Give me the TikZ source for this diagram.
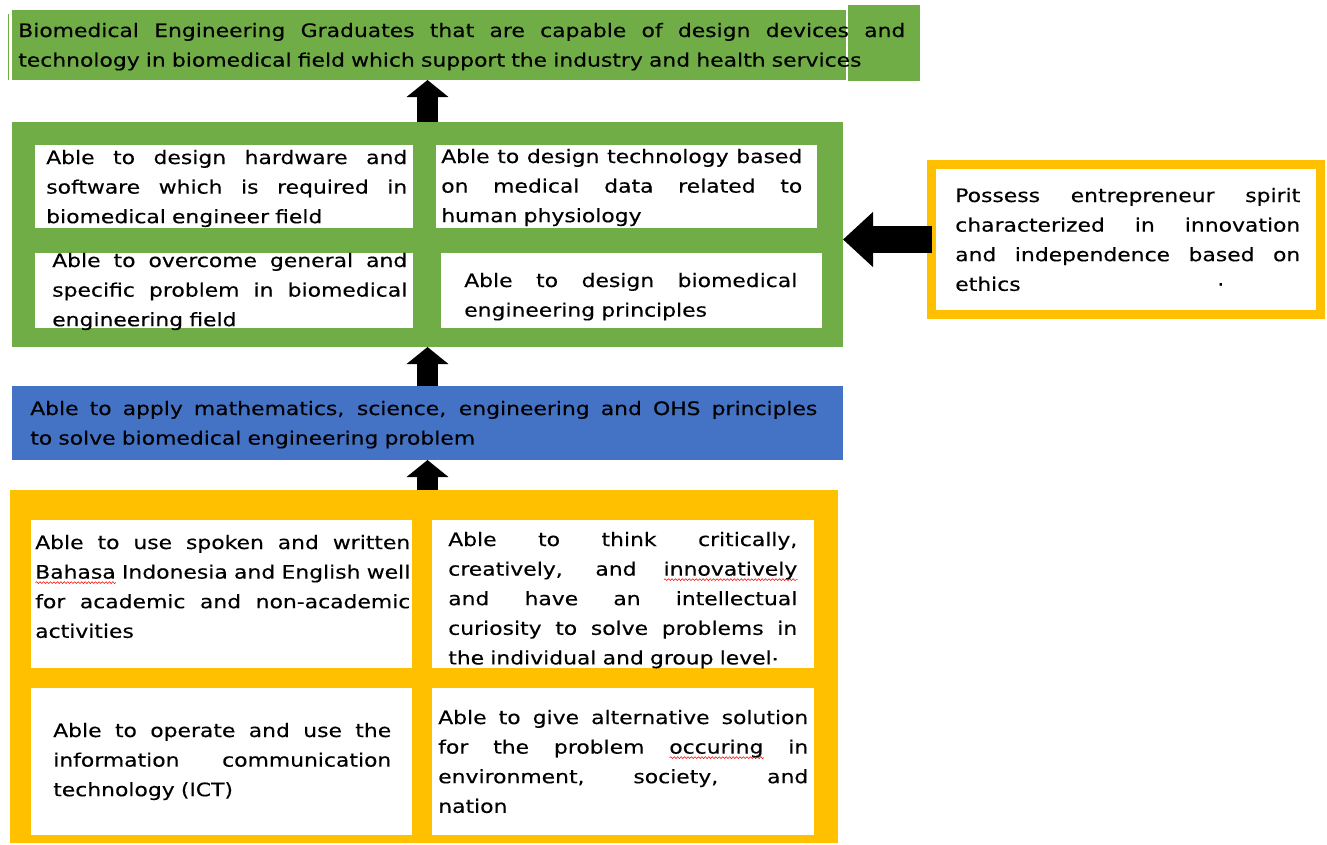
\documentclass[tikz,border=0pt]{standalone}
\usepackage{fontspec}
\setmainfont[FakeStretch=1.18,FakeBold=0.3]{DejaVu Sans}
\usetikzlibrary{arrows.meta,fit,decorations.pathmorphing}
\definecolor{cgreen}{HTML}{70AD47}
\definecolor{cblue}{HTML}{4472C4}
\definecolor{cyellow}{HTML}{FFC000}
\newsavebox\wavebox
\newcommand\redwave[1]{\sbox\wavebox{#1}\rlap{\tikz[x=1pt,y=1pt,baseline=0pt]
  \draw[red, line width=0.4pt, decorate, decoration={snake,amplitude=0.7pt,segment length=2.6pt}]
  (0,-3) -- (\the\wd\wavebox,-3);}\usebox\wavebox}
\newlength\tw
\newcommand\jl[1]{\leavevmode\hbox to \tw{\spaceskip=0.25em plus 1fil minus 0.12em\relax #1}\\}
\newcommand\lastl[1]{\leavevmode\hbox to \tw{#1}}
\tikzset{
  panel/.style={inner sep=0pt, outer sep=0pt},
  whitebox/.style={fill=white, inner sep=0pt, outer sep=0pt},
  txt/.style={inner sep=0pt, anchor=base west, align=left, text width=#1,
    execute at begin node={\setlength{\tw}{#1}},
    font=\fontsize{13.9}{22.2}\selectfont},
  uparrow/.style={line width=15.75pt, -{Triangle[width=30.75pt,length=12.75pt]}},
  leftarrow/.style={line width=20.25pt, -{Triangle[width=40pt,length=22.5pt]}},
}
\begin{document}
\begin{tikzpicture}[x=0.75pt,y=-0.75pt]
\useasboundingbox (0,0) rectangle (1327,844);
% ---- top goal box
\node[panel, fill=cgreen, fit={(12,10) (846,80)}] (top) {};
\node[panel, fill=cgreen, fit={(848,5) (920,81)}] (topx) {};
\fill[cgreen] (7.5,14) rectangle (9,80);
\node[txt=665.25pt] (ttop) at (18,37)
 {\jl{Biomedical Engineering Graduates that are capable of design devices and}technology in biomedical field which support the industry and health services};
% ---- green competence box
\node[panel, fill=cgreen, fit={(12,122) (843,347)}] (box2) {};
\node[whitebox, fit={(35,145) (413,228)}] (wa) {};
\node[whitebox, fit={(436,145) (817,228)}] (wb) {};
\node[whitebox, fit={(35,253) (413,328)}] (wc) {};
\node[whitebox, fit={(441,253) (822,328)}] (wd) {};
\node[txt=270.75pt] (ta) at (46,164)
 {\jl{Able to design hardware and}\jl{software which is required in}biomedical engineer field};
\node[txt=270.75pt] (tb) at (441,163)
 {\jl{Able to design technology based}\jl{on medical data related to}human physiology};
\node[txt=266.25pt] (tc) at (52,267)
 {\jl{Able to overcome general and}\jl{specific problem in biomedical}engineering field};
\node[txt=249.75pt] (td) at (464,287)
 {\jl{Able to design biomedical}engineering principles};
% ---- blue box
\node[panel, fill=cblue, fit={(12,386) (843,460)}] (blue) {};
\node[txt=590.25pt] (tblue) at (30,415)
 {\jl{Able to apply mathematics, science, engineering and OHS principles}to solve biomedical engineering problem};
% ---- yellow box
\node[panel, fill=cyellow, fit={(10,490) (838,843)}] (ybox) {};
\node[whitebox, fit={(31,520) (412,668)}] (ya) {};
\node[whitebox, fit={(432,520) (814,668)}] (yb) {};
\node[whitebox, fit={(31,688) (412,835)}] (yc) {};
\node[whitebox, fit={(432,688) (814,835)}] (yd) {};
\node[txt=281.25pt] (tya) at (35,549)
 {\jl{Able to use spoken and written}\jl{\redwave{Bahasa} Indonesia and English well}\jl{for academic and non-academic}activities};
\node[txt=261.75pt] (tyb) at (448,546)
 {\jl{Able to think critically,}\jl{creatively, and \redwave{innovatively}}\jl{and have an intellectual}\jl{curiosity to solve problems in}the individual and group level\raisebox{3pt}{.}};
\node[txt=253.5pt] (tyc) at (53,737)
 {\jl{Able to operate and use the}\jl{information communication}technology (ICT)};
\node[txt=277.5pt] (tyd) at (438,724)
 {\jl{Able to give alternative solution}\jl{for the problem \redwave{occuring} in}\jl{environment, society, and}nation};
% ---- right box
\node[panel, draw=cyellow, line width=6.75pt, fill=white, fit={(931.5,164.5) (1320.5,314.5)}] (rbox) {};
\node[txt=258.75pt] (trb) at (955,202)
 {\jl{Possess entrepreneur spirit}\jl{characterized in innovation}\jl{and independence based on}\lastl{ethics\hfill·\hspace*{57pt}}};
% ---- arrows
\draw[uparrow] (box2.north) -- (box2.north |- top.south);
\draw[uparrow] (blue.north) -- (blue.north |- box2.south);
\draw[uparrow] (ybox.north -| blue.north) -- (blue.south);
\draw[leftarrow] (rbox.west) -- (rbox.west -| box2.east);
\end{tikzpicture}
\end{document}
